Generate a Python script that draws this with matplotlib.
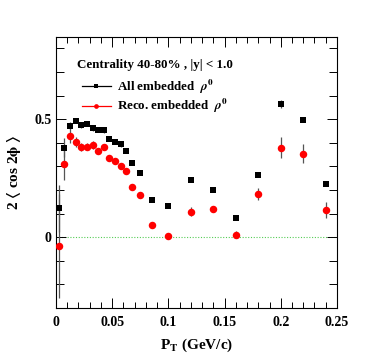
import matplotlib
matplotlib.use("Agg")
import matplotlib.pyplot as plt
from matplotlib.lines import Line2D
from matplotlib.ticker import MultipleLocator, FixedFormatter, FixedLocator

plt.rcParams['font.family'] = ['Liberation Serif', 'DejaVu Serif']
plt.rcParams['font.weight'] = 'bold'
plt.rcParams['mathtext.fontset'] = 'stix'

# pT bins (GeV/c)
pt = [0.0025, 0.0075, 0.0125, 0.0175, 0.0225, 0.0275, 0.0325, 0.0375, 0.0425,
      0.0475, 0.0525, 0.0575, 0.0625, 0.0675, 0.075, 0.085, 0.1, 0.12, 0.14,
      0.16, 0.18, 0.2, 0.22, 0.24]

# All embedded rho0
all_v2 = [0.123, 0.380, 0.473, 0.493, 0.474, 0.481, 0.462, 0.455, 0.453,
          0.418, 0.404, 0.394, 0.366, 0.316, 0.274, 0.158, 0.134, 0.243, 0.200,
          0.083, 0.264, 0.565, 0.498, 0.226]
all_err = [0.100, 0.040, 0.015, 0.010, 0.010, 0.010, 0.010, 0.010, 0.010,
           0.010, 0.010, 0.010, 0.010, 0.010, 0.010, 0.008, 0.008, 0.008, 0.008,
           0.008, 0.010, 0.017, 0.010, 0.010]

# Reco. embedded rho0
reco_v2 = [-0.036, 0.311, 0.431, 0.404, 0.383, 0.383, 0.391, 0.367, 0.381,
           0.335, 0.325, 0.301, 0.281, 0.214, 0.178, 0.052, 0.006, 0.109, 0.119,
           0.011, 0.183, 0.380, 0.353, 0.116]
reco_err = [0.220, 0.067, 0.030, 0.022, 0.018, 0.015, 0.015, 0.012, 0.012,
            0.010, 0.010, 0.010, 0.010, 0.010, 0.010, 0.010, 0.010, 0.018, 0.014,
            0.015, 0.025, 0.046, 0.040, 0.033]

fig = plt.figure(figsize=(3.74, 3.63), dpi=100)
ax = fig.add_axes([0.1497, 0.1515, 0.7513, 0.7475])

ax.axhline(0, color='#55cc55', lw=0.8, ls=(0, (1, 1.5)), zorder=1)

ax.errorbar(pt, all_v2, yerr=all_err, fmt='s', color='black', ms=5.0, mew=0,
            ecolor='#555555', elinewidth=0.9, capsize=0, zorder=3)
ax.errorbar(pt, reco_v2, yerr=reco_err, fmt='o', color='red', ms=5.4, mew=0,
            ecolor='#555555', elinewidth=0.9, capsize=0, zorder=3)

ax.set_xlim(0, 0.25)
ax.set_ylim(-0.3, 0.85)

xticks = [0, 0.05, 0.1, 0.15, 0.2, 0.25]
xtick_labels = ['0', '0.05', '0.1', '0.15', '0.2', '0.25']
yticks = [0, 0.5]
ytick_labels = ['0', '0.5']

ax.xaxis.set_major_locator(FixedLocator(xticks))
ax.xaxis.set_major_formatter(FixedFormatter(xtick_labels))
ax.xaxis.set_minor_locator(MultipleLocator(0.01))
ax.yaxis.set_major_locator(FixedLocator(yticks))
ax.yaxis.set_major_formatter(FixedFormatter(ytick_labels))
ax.yaxis.set_minor_locator(MultipleLocator(0.1))

ax.tick_params(which='both', direction='in', top=True, right=True, width=0.7,
               labelsize=10)
ax.tick_params(which='major', length=7)
ax.tick_params(which='minor', length=4)
ax.tick_params(axis='y', which='minor', length=6)
ax.tick_params(axis='x', pad=6)
ax.tick_params(axis='y', pad=3)
for s in ax.spines.values():
    s.set_linewidth(0.8)

ax.set_xlabel(r'P$_{\mathbf{T}}$ (GeV/c)', fontsize=11, fontweight='bold', labelpad=5)
ax.set_ylabel(r'2 $\langle$ cos 2$\mathbf{\phi}$ $\rangle$', fontsize=11,
              fontweight='bold', labelpad=8)

fig.text(0.205, 0.82, 'Centrality 40-80% , |y| < 1.0', fontsize=9.4,
         fontweight='bold', va='center')

handles = [Line2D([], [], color='black', marker='s', ms=3, mew=0, lw=0.9),
           Line2D([], [], color='red', marker='o', ms=3.4, mew=0, lw=0.9)]
labels = [r'All embedded  $\rho^0$', r'Reco. embedded  $\rho^0$']
ax.legend(handles, labels, loc='upper left', bbox_to_anchor=(0.205, 0.80),
          bbox_transform=fig.transFigure, frameon=False, handlelength=2.2,
          handletextpad=0.5, labelspacing=0.1, borderaxespad=0,
          prop={'size': 9.4, 'weight': 'bold'})

fig.savefig('out.png', dpi=100)
